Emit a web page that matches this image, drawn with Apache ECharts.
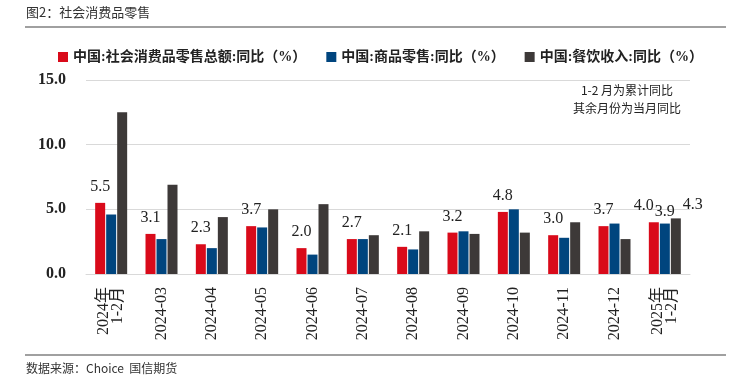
<!DOCTYPE html>
<html>
<head>
<meta charset="utf-8">
<script src="https://cdn.jsdelivr.net/npm/echarts@6/dist/echarts.min.js"></script>
<style>
html, body { margin: 0; padding: 0; background: #fff; }
#retail { width: 749px; height: 384px; }
</style>
</head>
<body>
<div id="retail"></div>
<script>
var categories = ['2024年\n1-2月', '2024-03', '2024-04', '2024-05', '2024-06', '2024-07',
	'2024-08', '2024-09', '2024-10', '2024-11', '2024-12', '2025年\n1-2月'];
var totalRetail = [5.5, 3.1, 2.3, 3.7, 2.0, 2.7, 2.1, 3.2, 4.8, 3.0, 3.7, 4.0];
var goodsRetail = [4.6, 2.7, 2.0, 3.6, 1.5, 2.7, 1.9, 3.3, 5.0, 2.8, 3.9, 3.9];
var cateringIncome = [12.5, 6.9, 4.4, 5.0, 5.4, 3.0, 3.3, 3.1, 3.2, 4.0, 2.7, 4.3];
var seriesNames = ['中国:社会消费品零售总额:同比（%）', '中国:商品零售:同比（%）', '中国:餐饮收入:同比（%）'];
var yTicks = [0, 5, 10, 15];

var dom = document.getElementById('retail');
var myChart = echarts.init(dom);
var serif = '"Liberation Serif", "Noto Sans CJK SC", serif';
var last = categories.length - 1;

var labelBase = {
	color: '#222',
	fontFamily: serif,
	fontSize: 16,
	formatter: function (p) { return p.value.toFixed(1); }
};

// only the last group gets labels on all three bars
function withLastLabel(vals, extra) {
	return vals.map(function (v, i) {
		if (i !== last) return v;
		return { value: v, label: Object.assign({ show: true, position: 'top' }, labelBase, extra) };
	});
}

var redData = totalRetail.map(function (v, i) {
	if (i !== last) return v;
	return { value: v, label: { offset: [-10, 0], distance: 8 } };
});

var option = {
	animation: false,
	color: ['#D90A1A', '#00457E', '#3D3938'],
	legend: {
		top: 45,
		left: 53,
		itemWidth: 10,
		itemHeight: 10,
		itemGap: 20,
		icon: 'rect',
		textStyle: {
			color: '#222',
			fontFamily: serif,
			fontSize: 14,
			fontWeight: 'bold'
		},
		data: seriesNames
	},
	grid: {
		left: 86,
		right: 59,
		top: 80,
		bottom: 110
	},
	xAxis: {
		type: 'category',
		data: categories,
		axisLine: { lineStyle: { color: '#d9d9d9', width: 1 } },
		axisTick: { show: false },
		axisLabel: {
			rotate: 90,
			margin: 13,
			color: '#222',
			fontFamily: serif,
			fontSize: 16,
			lineHeight: 14,
			interval: 0
		}
	},
	yAxis: {
		type: 'value',
		min: yTicks[0],
		max: yTicks[yTicks.length - 1],
		interval: 5,
		axisLine: { show: false },
		axisTick: { show: false },
		splitLine: { lineStyle: { color: '#d9d9d9', width: 1 } },
		axisLabel: {
			margin: 20,
			color: '#222',
			fontFamily: serif,
			fontSize: 16,
			fontWeight: 'bold',
			formatter: function (v) { return v.toFixed(1); }
		}
	},
	series: [{
		name: seriesNames[0],
		type: 'bar',
		barWidth: 10,
		barGap: '10%',
		data: redData,
		label: Object.assign({ show: true, position: 'top', distance: 8 }, labelBase)
	}, {
		name: seriesNames[1],
		type: 'bar',
		barWidth: 10,
		barGap: '10%',
		data: withLastLabel(goodsRetail, { distance: 4 })
	}, {
		name: seriesNames[2],
		type: 'bar',
		barWidth: 10,
		barGap: '10%',
		data: withLastLabel(cateringIncome, { offset: [17, 0], distance: 6 })
	}],
	graphic: [{
		type: 'text',
		left: 26,
		top: 6,
		style: { text: '图2：社会消费品零售', fill: '#333', font: '13px "Noto Sans CJK SC"' }
	}, {
		type: 'rect',
		shape: { x: 25, y: 26, width: 701, height: 2 },
		style: { fill: '#a0a0a0' }
	}, {
		type: 'rect',
		shape: { x: 25, y: 354, width: 701, height: 2 },
		style: { fill: '#a0a0a0' }
	}, {
		type: 'text',
		left: 26,
		top: 362,
		style: { text: '数据来源：Choice  国信期货', fill: '#333', font: '12px "Noto Sans CJK SC"' }
	}, {
		type: 'text',
		x: 627,
		y: 99,
		style: {
			text: '1-2 月为累计同比\n其余月份为当月同比',
			fill: '#222',
			font: '12px "Noto Sans CJK SC"',
			lineHeight: 18,
			align: 'center',
			verticalAlign: 'middle'
		}
	}]
};

myChart.setOption(option, true);
</script>
</body>
</html>
